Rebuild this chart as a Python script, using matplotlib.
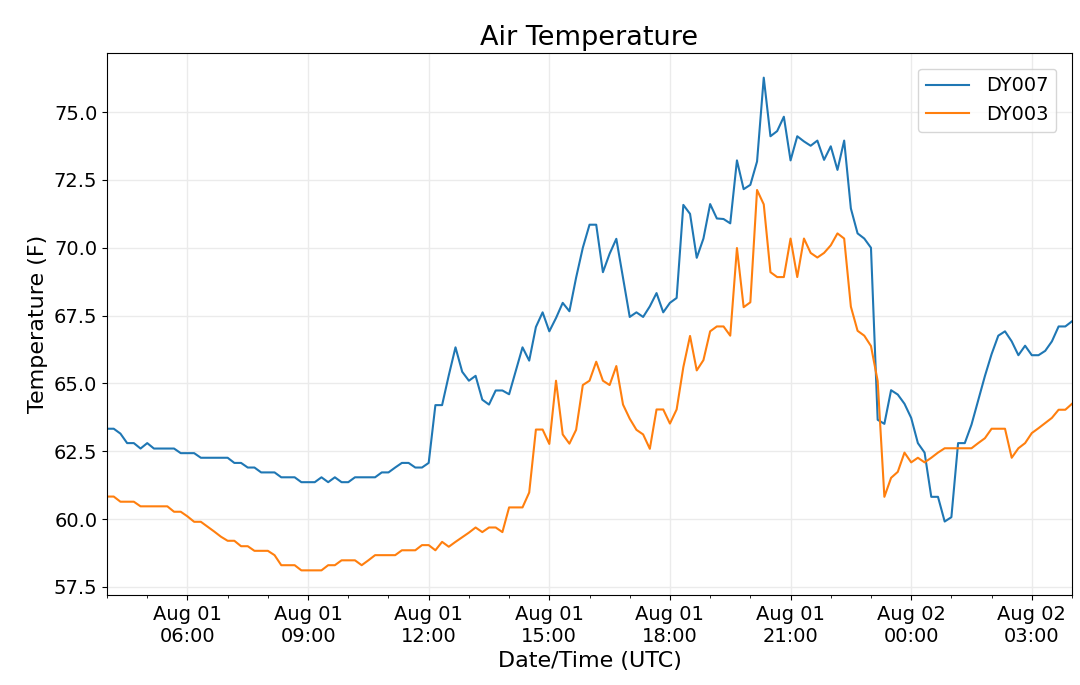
import numpy as np
import pandas as pd
import matplotlib
matplotlib.use("Agg")
import matplotlib.pyplot as plt
import matplotlib.dates as mdates

# 10-minute observations, Aug 01 04:00 UTC to Aug 02 04:00 UTC
start_time = "2019-08-01 04:00"
n_obs = 145

dy007 = [
    63.33, 63.33, 63.15, 62.8, 62.8, 62.6, 62.8, 62.6, 62.6, 62.6,
    62.6, 62.43, 62.43, 62.43, 62.26, 62.26, 62.26, 62.26, 62.26, 62.07,
    62.07, 61.9, 61.9, 61.72, 61.72, 61.72, 61.54, 61.54, 61.54, 61.36,
    61.36, 61.36, 61.54, 61.36, 61.54, 61.36, 61.36, 61.54, 61.54, 61.54,
    61.54, 61.72, 61.72, 61.9, 62.07, 62.07, 61.9, 61.9, 62.07, 64.2,
    64.2, 65.3, 66.33, 65.43, 65.1, 65.28, 64.4, 64.22, 64.74, 64.74,
    64.6, 65.47, 66.33, 65.84, 67.08, 67.62, 66.92, 67.41, 67.97, 67.66,
    68.9, 70.0, 70.85, 70.85, 69.1, 69.78, 70.33, 68.9, 67.45, 67.62,
    67.45, 67.84, 68.33, 67.62, 67.97, 68.15, 71.58, 71.25, 69.63, 70.34,
    71.61, 71.08, 71.06, 70.9, 73.22, 72.16, 72.32, 73.18, 76.27, 74.11,
    74.3, 74.83, 73.22, 74.11, 73.92, 73.76, 73.95, 73.24, 73.74, 72.87,
    73.95, 71.45, 70.53, 70.34, 70.0, 63.66, 63.51, 64.75, 64.59, 64.25,
    63.73, 62.8, 62.45, 60.82, 60.82, 59.91, 60.07, 62.8, 62.8, 63.48,
    64.37, 65.27, 66.08, 66.76, 66.92, 66.55, 66.04, 66.39, 66.04, 66.04,
    66.2, 66.55, 67.1, 67.1, 67.29,
]

dy003 = [
    60.83, 60.83, 60.64, 60.64, 60.64, 60.47, 60.47, 60.47, 60.47, 60.47,
    60.27, 60.27, 60.1, 59.9, 59.9, 59.72, 59.54, 59.35, 59.2, 59.2,
    59.0, 59.0, 58.83, 58.83, 58.83, 58.67, 58.3, 58.3, 58.3, 58.11,
    58.11, 58.11, 58.11, 58.3, 58.3, 58.48, 58.48, 58.48, 58.3, 58.48,
    58.67, 58.67, 58.67, 58.67, 58.85, 58.85, 58.85, 59.04, 59.04, 58.85,
    59.16, 58.98, 59.16, 59.33, 59.5, 59.69, 59.52, 59.69, 59.69, 59.52,
    60.43, 60.43, 60.43, 60.98, 63.3, 63.3, 62.77, 65.1, 63.12, 62.78,
    63.29, 64.94, 65.1, 65.8, 65.1, 64.94, 65.64, 64.22, 63.7, 63.29,
    63.12, 62.59, 64.04, 64.04, 63.52, 64.04, 65.6, 66.75, 65.48, 65.86,
    66.92, 67.1, 67.1, 66.76, 69.99, 67.81, 67.99, 72.13, 71.6, 69.1,
    68.92, 68.92, 70.34, 68.92, 70.34, 69.81, 69.64, 69.81, 70.09, 70.53,
    70.34, 67.83, 66.94, 66.76, 66.38, 65.09, 60.82, 61.52, 61.74, 62.45,
    62.09, 62.26, 62.09, 62.26, 62.45, 62.61, 62.61, 62.61, 62.61, 62.61,
    62.8, 62.98, 63.33, 63.33, 63.33, 62.26, 62.61, 62.8, 63.17, 63.35,
    63.54, 63.73, 64.03, 64.03, 64.25,
]

series_names = ["DY007", "DY003"]
series_colors = ["#1f77b4", "#ff7f0e"]

times = pd.date_range(start_time, periods=n_obs, freq="10min")

fig = plt.figure(figsize=(10.8, 6.85), dpi=100)
ax = fig.add_axes([0.0991, 0.1314, 0.8935, 0.7912])

for name, vals, col in zip(series_names, [dy007, dy003], series_colors):
    ax.plot(times.to_pydatetime(), vals, color=col, lw=1.5, label=name)

ax.set_xlim(times[0].to_pydatetime(), times[-1].to_pydatetime())
ax.xaxis.set_major_locator(mdates.HourLocator(byhour=range(0, 24, 3)))
ax.xaxis.set_minor_locator(mdates.HourLocator())
ax.xaxis.set_major_formatter(mdates.DateFormatter("%b %d\n%H:%M"))
for lbl in ax.get_xticklabels():
    lbl.set_horizontalalignment("center")

ax.grid(True, which="major", color="#ebebeb", lw=1)
ax.set_axisbelow(True)
ax.tick_params(axis="both", which="major", labelsize=14)

ax.set_title("Air Temperature", fontsize=19.5)
ax.set_xlabel("Date/Time (UTC)", fontsize=16)
ax.set_ylabel("Temperature (F)", fontsize=16)
ax.legend(loc="upper right", fontsize=14, handlelength=2.2,
          borderaxespad=0.8, handletextpad=0.9)

fig.savefig("out.png", dpi=100)
